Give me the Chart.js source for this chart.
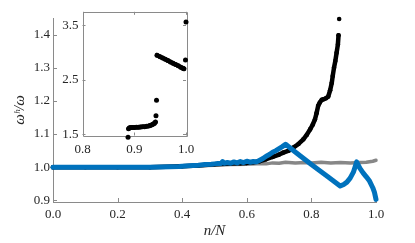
<!DOCTYPE html>
<html><head><meta charset="utf-8">
<script src="https://cdn.jsdelivr.net/npm/chart.js@4/dist/chart.umd.min.js"></script>
<style>
html,body{margin:0;padding:0;background:#fff;}
#wrap{position:relative;width:415px;height:243px;}
#wrap canvas{position:absolute;left:0;top:0;}
</style></head><body>
<div id="wrap"><canvas id="main" width="415" height="243"></canvas><canvas id="inset" width="415" height="243"></canvas></div>
<script>
// ---- data ----
const blueN = [0, 0.05, 0.1, 0.15, 0.2, 0.25, 0.3, 0.33, 0.36, 0.39, 0.42, 0.45, 0.47, 0.49, 0.5, 0.51, 0.52, 0.525, 0.53, 0.54, 0.55, 0.56, 0.57, 0.58, 0.59, 0.6, 0.61, 0.62, 0.63, 0.64, 0.65, 0.66, 0.67, 0.68, 0.69, 0.7, 0.71, 0.72, 0.75, 0.8, 0.85, 0.889, 0.9, 0.91, 0.92, 0.93, 0.935, 0.94, 0.95, 0.96, 0.97, 0.98, 0.99, 0.995, 1.0];
const blueV = [1.0, 1.0, 1.0, 1.0, 1.0, 1.0, 1.0, 1.0005, 1.001, 1.002, 1.004, 1.006, 1.008, 1.009, 1.01, 1.011, 1.011, 1.017, 1.012, 1.014, 1.012, 1.016, 1.013, 1.017, 1.014, 1.018, 1.015, 1.017, 1.016, 1.021, 1.026, 1.033, 1.038, 1.045, 1.05, 1.056, 1.062, 1.069, 1.046, 1.008, 0.972, 0.943, 0.948, 0.955, 0.967, 0.985, 1.0, 1.016, 0.997, 0.983, 0.971, 0.958, 0.938, 0.925, 0.903];

const blackN = [0, 0.1, 0.2, 0.3, 0.4, 0.45, 0.5, 0.55, 0.58, 0.6, 0.62, 0.64, 0.66, 0.68, 0.7, 0.713, 0.73, 0.744, 0.76, 0.775, 0.786, 0.796, 0.804, 0.811, 0.816, 0.821, 0.826, 0.832, 0.838, 0.845, 0.852, 0.858, 0.863, 0.866, 0.870, 0.874, 0.878, 0.882, 0.884, 0.886];
const blackV = [1.0, 1.0, 1.0, 1.0, 1.003, 1.005, 1.009, 1.011, 1.012, 1.013, 1.015, 1.018, 1.024, 1.031, 1.038, 1.044, 1.05, 1.059, 1.07, 1.084, 1.098, 1.114, 1.128, 1.144, 1.163, 1.185, 1.195, 1.203, 1.205, 1.208, 1.213, 1.232, 1.254, 1.275, 1.3, 1.32, 1.345, 1.37, 1.398, 1.447];

const grayN = [0, 0.1, 0.2, 0.3, 0.4, 0.45, 0.5, 0.55, 0.6, 0.63, 0.66, 0.68, 0.7, 0.72, 0.75, 0.78, 0.8, 0.83, 0.86, 0.89, 0.92, 0.95, 0.97, 0.99, 1.0];
const grayV = [1.0, 1.0, 1.0, 1.0, 1.002, 1.004, 1.006, 1.008, 1.009, 1.01, 1.01, 1.013, 1.012, 1.015, 1.013, 1.014, 1.013, 1.015, 1.013, 1.014, 1.013, 1.014, 1.015, 1.018, 1.021];

const insetN = [0.888, 0.889, 0.891, 0.894, 0.897, 0.900, 0.904, 0.908, 0.912, 0.916, 0.920, 0.924, 0.928, 0.931, 0.934, 0.937, 0.939, 0.941, 0.942, 0.943, 0.944, 0.950, 0.955, 0.960, 0.965, 0.970, 0.975, 0.980, 0.985, 0.990, 0.994, 0.996, 0.999, 1.0];
const insetV = [1.44, 1.60, 1.615, 1.62, 1.62, 1.622, 1.625, 1.627, 1.63, 1.633, 1.637, 1.642, 1.65, 1.66, 1.67, 1.685, 1.70, 1.72, 1.835, 2.12, 2.95, 2.92, 2.897, 2.873, 2.85, 2.825, 2.80, 2.778, 2.754, 2.73, 2.71, 2.70, 2.86, 3.56];

const xTicksMain = [0, 0.2, 0.4, 0.6, 0.8, 1.0];
const yTicksMain = [0.9, 1.0, 1.1, 1.2, 1.3, 1.4];
const xTicksInset = [0.8, 0.9, 1.0];
const yTicksInset = [1.5, 2.5, 3.5];

// ---- helpers ----
const pts = (xs, ys) => xs.map((x, i) => ({x: x, y: ys[i]}));
const SERIF = "'Liberation Serif', 'DejaVu Serif', serif";
const AXIS = '#8a8a8a';
const LABEL = '#262626';

const inTicks = {
  id: 'inTicks',
  beforeDatasetsDraw(chart, args, opts) {
    const {ctx, chartArea: a, scales: {x, y}} = chart;
    ctx.save();
    ctx.strokeStyle = AXIS;
    ctx.lineWidth = 1;
    ctx.beginPath();
    if (opts.box) {
      ctx.rect(Math.round(a.left) + 0.5, Math.round(a.top) + 0.5, Math.round(a.right - a.left), Math.round(a.bottom - a.top));
    }
    x.ticks.forEach(t => {
      const px = Math.round(x.getPixelForValue(t.value)) + 0.5;
      ctx.moveTo(px, a.bottom); ctx.lineTo(px, a.bottom - opts.len);
      if (opts.box) { ctx.moveTo(px, a.top); ctx.lineTo(px, a.top + opts.len); }
    });
    y.ticks.forEach(t => {
      const py = Math.round(y.getPixelForValue(t.value)) + 0.5;
      ctx.moveTo(a.left, py); ctx.lineTo(a.left + opts.len, py);
      if (opts.box) { ctx.moveTo(a.right, py); ctx.lineTo(a.right - opts.len, py); }
    });
    ctx.stroke();
    ctx.restore();
  }
};

const tickFont = {family: SERIF, size: 13};

new Chart(document.getElementById('main'), {
  type: 'scatter',
  data: {
    datasets: [
      {data: pts(blueN, blueV), showLine: true, borderColor: '#0072BD', backgroundColor: '#0072BD', borderWidth: 5, pointRadius: 0, borderCapStyle: 'round', borderJoinStyle: 'round', clip: false},
      {data: pts(blackN, blackV), showLine: true, borderColor: '#000', backgroundColor: '#000', borderWidth: 4.5, pointRadius: 2.3, pointBorderWidth: 0, borderCapStyle: 'round', borderJoinStyle: 'round', clip: false,
        segment: {borderColor: c => (c.p1.parsed.y - c.p0.parsed.y > 0.048 ? 'rgba(0,0,0,0)' : '#000')}},
      {data: pts(grayN, grayV), showLine: true, borderColor: '#878787', backgroundColor: '#878787', borderWidth: 3.5, pointRadius: 0, borderCapStyle: 'round', borderJoinStyle: 'round', clip: false}
    ]
  },
  options: {
    responsive: false, animation: false,
    layout: {padding: {left: 0, right: 39, top: 18, bottom: 0}},
    plugins: {legend: {display: false}, tooltip: {enabled: false}, inTicks: {len: 4, box: false}},
    scales: {
      x: {
        type: 'linear', min: 0, max: 1,
        afterBuildTicks: s => { s.ticks = xTicksMain.map(v => ({value: v})); },
        afterFit: s => { s.height = 41; },
        ticks: {callback: v => Number(v).toFixed(1), font: tickFont, color: LABEL, padding: 5, maxRotation: 0},
        grid: {display: false, drawTicks: false},
        border: {display: true, color: AXIS, width: 1},
        title: {display: true, text: 'n/N', font: {family: SERIF, size: 15, style: 'italic'}, color: LABEL, padding: {top: 0, bottom: 3}}
      },
      y: {
        type: 'linear', min: 0.895, max: 1.45,
        afterBuildTicks: s => { s.ticks = yTicksMain.map(v => ({value: v})); },
        afterFit: s => { s.width = 53; },
        ticks: {callback: v => Number(v).toFixed(1), font: tickFont, color: LABEL, padding: 3},
        grid: {display: false, drawTicks: false},
        border: {display: true, color: AXIS, width: 1},
        title: {display: true, text: 'ωʰ/ω', font: {family: SERIF, size: 15, style: 'italic'}, color: LABEL, padding: {top: 11, bottom: 0}}
      }
    }
  },
  plugins: [inTicks]
});

new Chart(document.getElementById('inset'), {
  type: 'scatter',
  data: {
    datasets: [
      {data: pts(insetN, insetV), showLine: true, borderColor: '#000', backgroundColor: '#000', borderWidth: 4.5, pointRadius: 2.5, pointBorderWidth: 0, borderCapStyle: 'round', borderJoinStyle: 'round', clip: false,
        segment: {borderColor: c => (Math.abs(c.p1.parsed.y - c.p0.parsed.y) > 0.035 ? 'rgba(0,0,0,0)' : '#000')}}
    ]
  },
  options: {
    responsive: false, animation: false,
    layout: {padding: {left: 0, right: 229, top: 7, bottom: 0}},
    plugins: {legend: {display: false}, tooltip: {enabled: false}, inTicks: {len: 3, box: true}},
    scales: {
      x: {
        type: 'linear', min: 0.8, max: 1.0,
        afterBuildTicks: s => { s.ticks = xTicksInset.map(v => ({value: v})); },
        afterFit: s => { s.height = 107.5; },
        ticks: {callback: v => Number(v).toFixed(1), font: tickFont, color: LABEL, padding: 6, maxRotation: 0},
        grid: {display: false, drawTicks: false},
        border: {display: false}
      },
      y: {
        type: 'linear', min: 1.474, max: 3.747,
        afterBuildTicks: s => { s.ticks = yTicksInset.map(v => ({value: v})); },
        afterFit: s => { s.width = 82.5; },
        ticks: {callback: v => Number(v).toFixed(1), font: tickFont, color: LABEL, padding: 4},
        grid: {display: false, drawTicks: false},
        border: {display: false}
      }
    }
  },
  plugins: [inTicks]
});
</script>
</body></html>
